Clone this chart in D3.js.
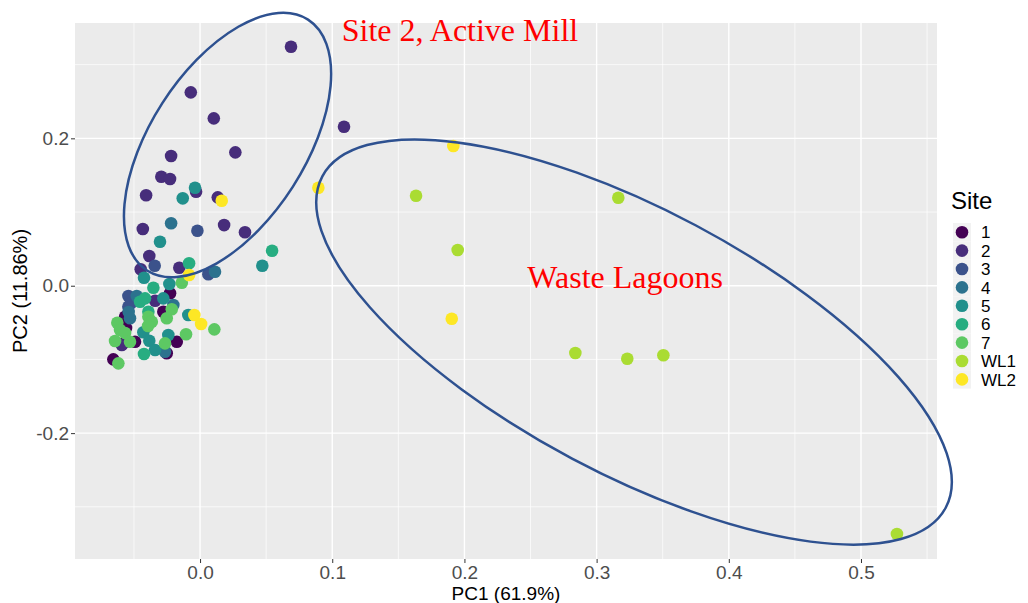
<!DOCTYPE html>
<html>
<head>
<meta charset="utf-8">
<script src="https://cdn.jsdelivr.net/npm/d3@7"></script>
<style>
  body { margin: 0; background: #fff; }
  svg { display: block; }
</style>
</head>
<body>
<div id="chart"></div>
<script>
// Dati (PC1, PC2) per ogni sito
const siteNames = ["1", "2", "3", "4", "5", "6", "7", "WL1", "WL2"];
const siteColors = ["#440154", "#472D7B", "#3B528B", "#2C728E", "#21908C", "#27AD81", "#5DC863", "#AADC32", "#FDE725"];

const site1 = [[-0.0227, -0.0103], [-0.0278, -0.0353], [-0.0492, -0.0760], [-0.0580, -0.0782], [-0.0176, -0.0760],
  [-0.0252, -0.0917], [-0.0656, -0.0999], [-0.0567, -0.0421], [-0.0560, -0.0574]];
const site2 = [[0.0688, 0.3243], [-0.0070, 0.2624], [0.0104, 0.2271], [0.1089, 0.2157], [0.0267, 0.1810],
  [-0.0219, 0.1760], [-0.0293, 0.1479], [-0.0227, 0.1448], [-0.0408, 0.1227], [0.0134, 0.1199],
  [-0.0030, 0.1275], [-0.0433, 0.0769], [0.0182, 0.0823], [0.0340, 0.0725], [-0.0384, 0.0403],
  [-0.0449, 0.0223], [-0.0157, 0.0244], [-0.0340, -0.0204], [-0.0592, -0.0805]];
const site3 = [[-0.0020, 0.0746], [-0.0343, 0.0271], [0.0063, 0.0155], [-0.0542, -0.0140], [-0.0542, -0.0285],
  [-0.0522, -0.0235]];
const site4 = [[-0.0219, 0.0847], [0.0113, 0.0190], [-0.0479, -0.0140], [-0.0202, -0.0262], [-0.0530, -0.0442],
  [-0.0265, -0.0896], [-0.0540, -0.0357]];
const site5 = [[-0.0038, 0.1330], [-0.0131, 0.1186], [-0.0303, 0.0597], [0.0471, 0.0271], [-0.0424, 0.0109],
  [-0.0232, 0.0023], [-0.0278, -0.0171], [-0.0089, -0.0398], [-0.0429, -0.0632], [-0.0240, -0.0669],
  [-0.0384, -0.0746], [-0.0340, -0.0872]];
const site6 = [[0.0545, 0.0475], [-0.0083, 0.0304], [-0.0353, -0.0027], [-0.0454, -0.0217], [-0.0416, -0.0171],
  [-0.0391, -0.0353], [-0.0424, -0.0927]];
const site7 = [[-0.0138, 0.0041], [-0.0391, -0.0421], [-0.0214, -0.0320], [-0.0252, -0.0442], [-0.0626, -0.0502],
  [-0.0365, -0.0488], [0.0108, -0.0592], [-0.0605, -0.0601], [-0.0567, -0.0642], [-0.0106, -0.0659],
  [-0.0643, -0.0750], [-0.0530, -0.0760], [-0.0265, -0.0782], [-0.0618, -0.1053], [-0.0393, -0.0547]];
const siteWL1 = [[0.1634, 0.1221], [0.3164, 0.1194], [0.1949, 0.0484], [0.2839, -0.0913], [0.3232, -0.0991],
  [0.3505, -0.0944], [0.5272, -0.3369]];
const siteWL2 = [[0.1916, 0.1896], [0.0895, 0.1330], [0.0164, 0.1153], [-0.0083, 0.0145], [-0.0043, -0.0398],
  [0.0008, -0.0520], [0.1904, -0.0448]];

const xTicks = [0.0, 0.1, 0.2, 0.3, 0.4, 0.5];
const yTicks = [-0.2, 0.0, 0.2];
const xMinor = [-0.05, 0.05, 0.15, 0.25, 0.35, 0.45, 0.55];
const yMinor = [-0.3, -0.1, 0.1, 0.3];

// Annotazioni (ellissi e testi)
const annotations = [
  { text: "Site 2, Active Mill", x: 0.1072, y: 0.3324 },
  { text: "Waste Lagoons", x: 0.2476, y: -0.0035 }
];
const ellipses = [
  { cx: 0.0208, cy: 0.1909, rx: 149, ry: 77.5, angle: -57.3 },
  { cx: 0.3283, cy: -0.0764, rx: 353, ry: 132, angle: 28 }
];

const width = 1028;
const height = 603;
const margin = { left: 75, right: 91, top: 23, bottom: 44 };

const svg = d3.select("#chart").append("svg").attr("width", width).attr("height", height);

const x = d3.scaleLinear().domain([-0.0946, 0.5575]).range([margin.left, width - margin.right]);
const y = d3.scaleLinear().domain([-0.3708, 0.3565]).range([height - margin.bottom, margin.top]);

// sfondo pannello
svg.append("rect")
  .attr("x", margin.left).attr("y", margin.top)
  .attr("width", width - margin.left - margin.right)
  .attr("height", height - margin.top - margin.bottom)
  .attr("fill", "#EBEBEB");

const grid = svg.append("g");
grid.selectAll(".xminor").data(xMinor).join("line")
  .attr("x1", d => x(d)).attr("x2", d => x(d))
  .attr("y1", margin.top).attr("y2", height - margin.bottom)
  .attr("stroke", "#fff").attr("stroke-width", 0.7);
grid.selectAll(".yminor").data(yMinor).join("line")
  .attr("y1", d => y(d)).attr("y2", d => y(d))
  .attr("x1", margin.left).attr("x2", width - margin.right)
  .attr("stroke", "#fff").attr("stroke-width", 0.7);
grid.selectAll(".xmajor").data(xTicks).join("line")
  .attr("x1", d => x(d)).attr("x2", d => x(d))
  .attr("y1", margin.top).attr("y2", height - margin.bottom)
  .attr("stroke", "#fff").attr("stroke-width", 1.4);
grid.selectAll(".ymajor").data(yTicks).join("line")
  .attr("y1", d => y(d)).attr("y2", d => y(d))
  .attr("x1", margin.left).attr("x2", width - margin.right)
  .attr("stroke", "#fff").attr("stroke-width", 1.4);

// assi
const xAxis = svg.append("g")
  .attr("transform", `translate(0,${height - margin.bottom})`)
  .call(d3.axisBottom(x).tickValues(xTicks).tickFormat(d3.format(".1f")).tickSize(4).tickPadding(3));
const yAxis = svg.append("g")
  .attr("transform", `translate(${margin.left},0)`)
  .call(d3.axisLeft(y).tickValues(yTicks).tickFormat(d3.format(".1f")).tickSize(4).tickPadding(2));
[xAxis, yAxis].forEach(ax => {
  ax.select(".domain").remove();
  ax.selectAll(".tick line").attr("stroke", "#333333").attr("stroke-width", 1);
  ax.selectAll(".tick text")
    .attr("fill", "#4D4D4D")
    .style("font-family", "'Liberation Sans', Arial, sans-serif")
    .style("font-size", "19px");
});
yAxis.selectAll(".tick text").text(d => d3.format(".1f")(d).replace("−", "-"));
xAxis.selectAll(".tick text").text(d => d3.format(".1f")(d).replace("−", "-"));

// titoli assi
svg.append("text")
  .attr("x", (margin.left + width - margin.right) / 2)
  .attr("y", 600)
  .attr("text-anchor", "middle")
  .style("font-family", "'Liberation Sans', Arial, sans-serif")
  .style("font-size", "19px")
  .attr("fill", "#000")
  .text("PC1 (61.9%)");
svg.append("text")
  .attr("transform", `translate(27,${(margin.top + height - margin.bottom) / 2}) rotate(-90)`)
  .attr("text-anchor", "middle")
  .style("font-family", "'Liberation Sans', Arial, sans-serif")
  .style("font-size", "20px")
  .attr("fill", "#000")
  .text("PC2 (11.86%)");

// punti
const allSites = [site1, site2, site3, site4, site5, site6, site7, siteWL1, siteWL2];
const points = [];
allSites.forEach((pts, i) => pts.forEach(p => points.push({ site: siteNames[i], x: p[0], y: p[1], color: siteColors[i] })));

svg.append("g").selectAll("circle").data(points).join("circle")
  .attr("cx", d => x(d.x))
  .attr("cy", d => y(d.y))
  .attr("r", 6.3)
  .attr("fill", d => d.color);

// ellissi
svg.append("g").selectAll("ellipse").data(ellipses).join("ellipse")
  .attr("transform", d => `translate(${x(d.cx)},${y(d.cy)}) rotate(${d.angle})`)
  .attr("rx", d => d.rx)
  .attr("ry", d => d.ry)
  .attr("fill", "none")
  .attr("stroke", "#2E5190")
  .attr("stroke-width", 2.5);

// testi annotazioni
svg.append("g").selectAll("text").data(annotations).join("text")
  .attr("x", d => x(d.x))
  .attr("y", d => y(d.y))
  .attr("fill", "#FF0000")
  .style("font-family", "'Liberation Serif', 'Times New Roman', serif")
  .style("font-size", "32px")
  .text(d => d.text);

// legenda
const legend = svg.append("g").attr("transform", "translate(951,0)");
legend.append("text")
  .attr("x", 0).attr("y", 209)
  .style("font-family", "'Liberation Sans', Arial, sans-serif")
  .style("font-size", "24px")
  .attr("fill", "#000")
  .text("Site");
const keyH = 18.4;
const keyTop = 223;
const keys = legend.selectAll(".key").data(siteNames).join("g")
  .attr("transform", (d, i) => `translate(0,${keyTop + i * keyH})`);
keys.append("rect")
  .attr("x", 2).attr("y", 0).attr("width", 18).attr("height", keyH)
  .attr("fill", "#F2F2F2");
keys.append("circle")
  .attr("cx", 11).attr("cy", keyH / 2).attr("r", 6.3)
  .attr("fill", (d, i) => siteColors[i]);
keys.append("text")
  .attr("x", 30).attr("y", keyH / 2).attr("dy", "0.36em")
  .style("font-family", "'Liberation Sans', Arial, sans-serif")
  .style("font-size", "17px")
  .attr("fill", "#000")
  .text(d => d);
</script>
</body>
</html>
